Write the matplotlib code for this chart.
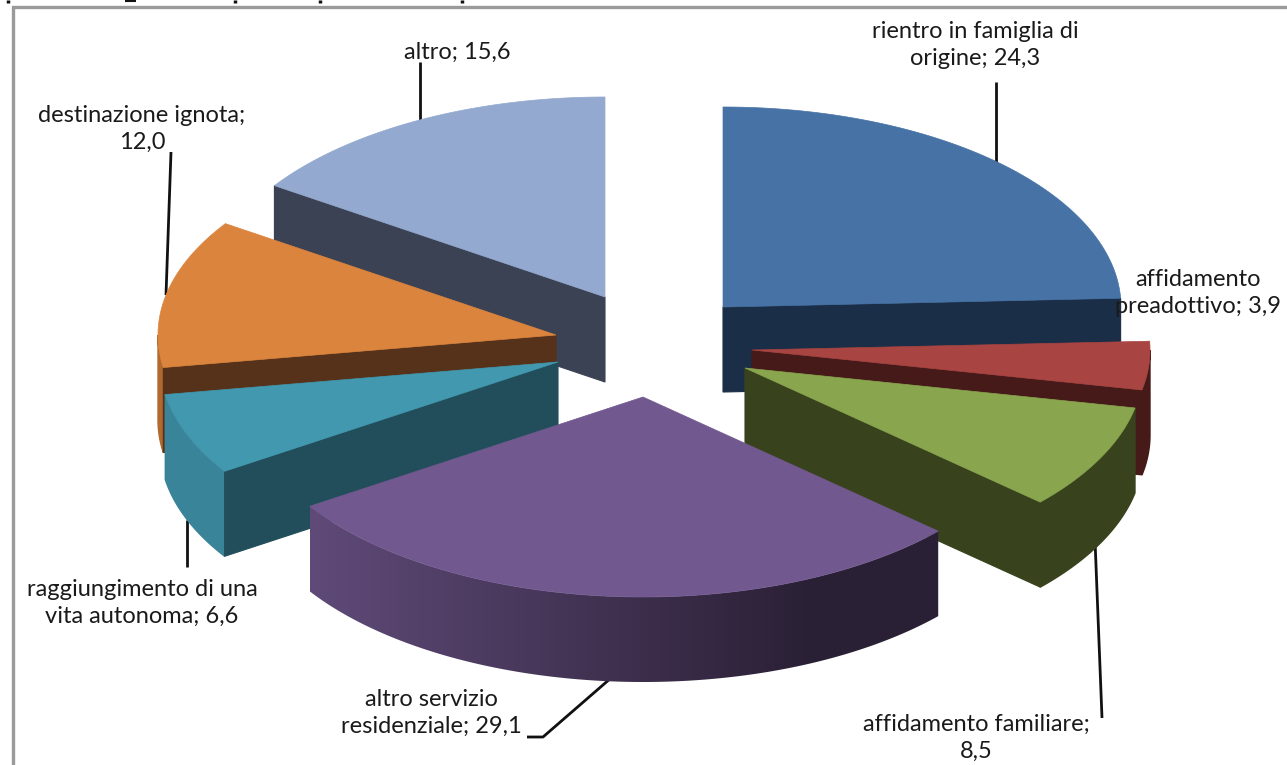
import numpy as np
import matplotlib
matplotlib.use("Agg")
import matplotlib.pyplot as plt
from matplotlib.colors import LinearSegmentedColormap
from matplotlib.patches import Polygon

# ---- data (clockwise from 12 o'clock) ----
categories = ["rientro in famiglia di\norigine", "affidamento\npreadottivo",
              "affidamento familiare;\n", "altro servizio\nresidenziale",
              "raggiungimento di una\nvita autonoma", "destinazione ignota;\n", "altro"]
values = [24.3, 3.9, 8.5, 29.1, 6.6, 12.0, 15.6]

# ---- styles and layout ----
top_colors = ["#4672a6", "#a84441", "#89a54e", "#71588f", "#4198af", "#db843d", "#93a9cf"]
face_colors = ["#1b2e47", "#451a18", "#38431e", "#2c2138", "#214e5a", "#57321a", "#3b4253"]
rim_colors = ["#1b2e47", "#451a18", "#38431e", None, "#3a8499", "#b06a30", "#3b4253"]
apex_x = [723, 752, 745, 643, 558, 556, 605]
apex_y = [307, 350, 368, 397, 362, 335, 297]
visible_face = ["end", "end", "end", None, "start", "start", "start"]
draw_order = [6, 0, 5, 1, 4, 2, 3]
label_x = [975, 1198, 976, 431, 142, 142, 457]
label_y = [45, 293, 738, 713, 603, 129, 52]
leader_x = [[996, 996], [], [1095, 1102], [611, 543, 527], [187, 187], [171, 166], [420, 420]]
leader_y = [[82, 163], [], [540, 718], [678, 737, 737], [520, 567], [152, 295], [62, 125]]
title_marks_x = [8, 235, 320, 462]
title_bowl_x = [125, 136]
RX, RY, DEPTH = 398, 200, 85
rim_gradient = LinearSegmentedColormap.from_list("rim", ["#5f4a78", "#2a2035"])

fig = plt.figure(figsize=(12.87, 7.65), dpi=100, facecolor="white")
ax = fig.add_axes([0, 0, 1, 1])
ax.axis("off")

# frame (only the top and left sides are in view) and the remains of a cropped heading
ax.plot([13, 13, 1287], [765, 6.5, 6.5], color="#9a9a9a", lw=2.4, solid_joinstyle="miter", zorder=1)
ax.vlines(title_marks_x, 0, 2.5, color="#111111", lw=2.5, zorder=1)
ax.hlines(0.6, title_bowl_x[0], title_bowl_x[1], color="#111111", lw=1.5, zorder=1)


def rim_point(cx, cy, t):
    a = np.radians(t)
    return cx + RX * np.sin(a), cy - RY * np.cos(a)


edges = np.concatenate([[0], np.cumsum(values)]) / np.sum(values) * 360
z = 2
for i in draw_order:
    t0, t1 = edges[i], edges[i + 1]
    cx, cy = apex_x[i], apex_y[i]
    # side of the rim facing the viewer
    a, b = max(t0, 90), min(t1, 270)
    if b > a:
        ts = np.linspace(a, b, 200)
        xs, ys = rim_point(cx, cy, ts)
        outline = np.vstack([np.column_stack([xs, ys]),
                             np.column_stack([xs, ys + DEPTH])[::-1]])
        if rim_colors[i] is None:
            patch = Polygon(outline, closed=True, fc="none", ec="none", zorder=z)
            ax.add_patch(patch)
            grad = ax.imshow(np.clip(np.linspace(0, 1.25, 256), 0, 1)[None, :], cmap=rim_gradient,
                             extent=[xs.min(), xs.max(), ys.max() + DEPTH, ys.min()],
                             aspect="auto", zorder=z, interpolation="bilinear")
            grad.set_clip_path(patch)
        else:
            ax.add_patch(Polygon(outline, closed=True, fc=rim_colors[i], ec=rim_colors[i],
                                 lw=1.0, zorder=z))
    # cut face
    if visible_face[i]:
        t = t1 if visible_face[i] == "end" else t0
        px, py = rim_point(cx, cy, t)
        ax.add_patch(Polygon([(cx, cy), (px, py), (px, py + DEPTH), (cx, cy + DEPTH)],
                             closed=True, fc=face_colors[i], ec=face_colors[i], lw=0.8, zorder=z + 1))
    # top surface
    ts = np.linspace(t0, t1, 200)
    xs, ys = rim_point(cx, cy, ts)
    ax.add_patch(Polygon(np.vstack([[cx, cy], np.column_stack([xs, ys])]),
                         closed=True, fc=top_colors[i], ec=top_colors[i], lw=0.5, zorder=z + 2))
    z += 3

for lx, ly in zip(leader_x, leader_y):
    if lx:
        ax.plot(lx, ly, color="#111111", lw=2.0, zorder=1.5, solid_capstyle="butt")

for i, name in enumerate(categories):
    val = f"{values[i]:.1f}".replace(".", ",")
    txt = name + val if name.endswith(";\n") else f"{name}; {val}"
    ax.text(label_x[i], label_y[i], txt, family="Lato", fontsize=17, color="#1a1a1a",
            ha="center", va="center", linespacing=1.36, zorder=100)

ax.set_xlim(0, 1287)
ax.set_ylim(765, 0)
fig.savefig("out.png", dpi=100, facecolor="white")
